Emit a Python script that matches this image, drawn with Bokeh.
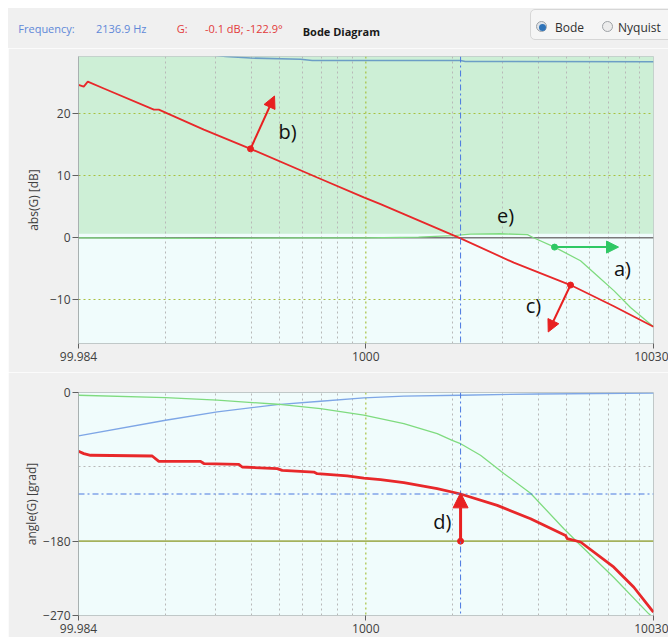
from bokeh.plotting import figure
from bokeh.layouts import column, row
from bokeh.models import (Range1d, FixedTicker, Span, BoxAnnotation, Arrow,
                          NormalHead, Div, Spacer)
from bokeh.core.properties import value
from bokeh.embed import file_html
from bokeh.resources import INLINE

# ---------------- data ----------------
F_MIN, F_MAX = 99.984, 10030.0
F_CURSOR = 2136.9
PHASE_CURSOR = -122.9
x_ticks = [F_MIN, 1000.0, F_MAX]
x_tick_labels = ["99.984", "1000", "10030"]
minor_freqs = [200, 300, 400, 500, 600, 700, 800, 900,
               2000, 3000, 4000, 5000, 6000, 7000, 8000, 9000]
mag_ticks = [-10, 0, 10, 20]
phase_ticks = [-270, -180, 0]
MAG_MIN, MAG_MAX = -17.0, 29.15

# |G| (red)
magG_f = [99.984, 104.3, 107.7, 122.5, 182.9, 190.3, 273, 396.9, 677.4, 984,
          1125, 2136.9, 3274, 5158, 7299, 10030]
magG_db = [24.6, 24.3, 25.1, 24.0, 20.6, 20.6, 17.4, 14.3, 9.7, 6.5,
           5.4, -0.1, -4.0, -7.6, -11.0, -14.3]
# |T| (green)
magT_f = [99.984, 300, 600, 1000, 1526, 2000, 2314, 2943, 3655, 3834, 4538,
          5588, 6390, 7299, 8342, 10030]
magT_db = [0.0, -0.1, 0.0, 0.0, 0.1, 0.35, 0.6, 0.65, 0.5, 0.0, -1.5,
           -3.7, -6.1, -8.5, -11.2, -14.3]
# |S| (blue)
magS_f = [150, 325, 396.9, 592, 651, 2136.9, 2218, 10030]
magS_db = [31.0, 29.15, 28.9, 28.7, 28.5, 28.5, 28.35, 28.3]

# angle(G) (red)
phG_f = [99.984, 104.3, 110.1, 180.5, 190.3, 265.9, 273, 361.4, 371.3, 491.6,
         511.7, 659.2, 677.4, 861.6, 984, 1125, 1356, 1772, 2136.9, 2867,
         3744, 4956, 5023, 5588, 7299, 8567, 9928, 10030]
phG_deg = [-71.2, -74, -76, -76.9, -83.3, -83.3, -86, -87, -90.2, -92.2,
           -94.3, -96.3, -98.3, -101, -103.6, -105.5, -109.2, -116.5, -122.9, -136.7,
           -152.9, -173.1, -177, -181, -211.5, -235.8, -264, -266]
# angle(T) (green)
phT_f = [99.984, 200.9, 304, 491.6, 695.6, 984, 1356, 1772, 1998, 2124, 2507,
         3022, 3744, 4890, 5588, 7299, 9661, 10030]
phT_deg = [-3.3, -6.1, -9.3, -14.2, -19.4, -27.5, -37.6, -49.7, -57.9, -61.5, -76,
           -98, -122, -165, -185, -224, -268, -273]
# angle(S) (blue)
phS_f = [99.984, 200.9, 304, 491.6, 695.6, 984, 1356, 2124, 4000, 10030]
phS_deg = [-52.6, -33.6, -23.5, -14.6, -10.6, -6.5, -4.5, -3.3, -1.8, -0.8]

# annotation arrows (start -> end) and letters
arrow_a = (4538, -1.5, 7578, -1.5)
arrow_b = (396.9, 14.3, 481, 22.8)
arrow_c = (5158, -7.6, 4314, -15.15)
arrow_d = (F_CURSOR, -180, F_CURSOR, -121.5)
top_letters = ["a)", "b)", "c)", "e)"]
top_letters_f = [7824, 534, 3834, 3064]
top_letters_db = [-5.0, 17.1, -10.9, 3.6]
bot_letters = ["d)"]
bot_letters_f = [1845]
bot_letters_deg = [-156.1]

header_texts = ["Frequency:", "2136.9 Hz", "G:", "-0.1 dB; -122.9\u00b0"]
header_colors = ["#6088d8", "#6088d8", "#e23a3a", "#e23a3a"]
header_title = "Bode Diagram"
radio_texts = ["Bode", "Nyquist"]

# ---------------- styles / layout (px) ----------------
BG = "#f0f0f0"
CYAN = "#f0fcfc"
GREEN_ZONE = "#cdefd6"
RED = "#e8282a"
GREEN = "#7fdb7f"
BLUE = "#7ea6e6"
OLIVE = "#a8c040"
GRID_GRAY = "#b8b8b8"
CURSOR = "#4a78e0"
FONT = "Open Sans"

W = 660
HEAD_H = 40
TOP_H = 324
BOT_H = 265
header_left = [10.3, 88, 168.7, 197]      # px inside header
radio_left = [527.8, 593.8]
radio_text_left = [547, 610]


def style_axes(p, ylabel, ystandoff):
    for ax in p.xaxis:
        ax.ticker = FixedTicker(ticks=x_ticks)
        ax.major_label_overrides = dict(zip(x_ticks, x_tick_labels))
        ax.minor_tick_line_color = None
        ax.major_tick_in = 0
        ax.major_tick_out = 5
        ax.major_label_standoff = 3
        ax.axis_line_color = "#c0c8c8"
        ax.major_tick_line_color = "#606060"
        ax.major_label_text_font = FONT
        ax.major_label_text_font_size = "12px"
        ax.major_label_text_color = "#404040"
    for ax in p.yaxis:
        ax.minor_tick_line_color = None
        ax.major_tick_in = 0
        ax.major_tick_out = 6
        ax.major_label_standoff = 2
        ax.axis_line_color = "#a8b0b0"
        ax.major_tick_line_color = "#606060"
        ax.major_label_text_font = FONT
        ax.major_label_text_font_size = "12px"
        ax.major_label_text_color = "#404040"
        ax.axis_label = ylabel
        ax.axis_label_text_font = FONT
        ax.axis_label_text_font_size = "12px"
        ax.axis_label_text_font_style = "normal"
        ax.axis_label_text_color = "#404040"
        ax.axis_label_standoff = ystandoff
    p.outline_line_color = "#c0c8c8"
    p.background_fill_color = CYAN
    p.border_fill_color = BG
    p.xgrid.ticker = FixedTicker(ticks=minor_freqs)
    p.xgrid.grid_line_color = GRID_GRAY
    p.xgrid.grid_line_dash = "2 3"
    p.add_layout(Span(location=1000, dimension="height", line_color=OLIVE,
                      line_dash="2 3", line_width=1.2, level="underlay"))


# ---------------- header ----------------
spans = []
for t, x, c in zip(header_texts, header_left, header_colors):
    spans.append(f'<span style="position:absolute;left:{x}px;top:12.8px;font-size:11px;'
                 f'line-height:15px;color:{c};white-space:nowrap">{t}</span>')
spans.append(f'<span style="position:absolute;left:294.7px;top:16.3px;font-size:11px;'
             f'line-height:15px;font-weight:bold;color:#1a1a1a;white-space:nowrap">{header_title}</span>')
spans.append('<div style="position:absolute;left:522px;top:1.3px;width:160px;height:31px;'
             'border:1px solid #d6d6d6;border-radius:5px;background:#f5f5f5"></div>')
for i, x in enumerate(radio_left):
    fill = "#dfe4ea" if i == 0 else "#ececec"
    spans.append(f'<div style="position:absolute;left:{x}px;top:13.2px;width:11px;height:11px;'
                 f'border:1px solid #9ea2a6;border-radius:50%;background:{fill}"></div>')
spans.append(f'<div style="position:absolute;left:{radio_left[0] + 3}px;top:16.2px;width:7px;'
             f'height:7px;border-radius:50%;background:#2f73b8"></div>')
for t, x in zip(radio_texts, radio_text_left):
    spans.append(f'<span style="position:absolute;left:{x}px;top:12px;font-size:12px;'
                 f'line-height:16px;color:#303030;white-space:nowrap">{t}</span>')
header_html = (f'<div style="position:relative;width:{W}px;height:{HEAD_H}px;overflow:hidden;'
               f'background:{BG};font-family:\'{FONT}\';margin:0;padding:0">' + "".join(spans) + '</div>')
head = Div(text=header_html, width=W, height=HEAD_H, margin=0)

# ---------------- magnitude plot ----------------
top = figure(width=W, height=TOP_H, x_axis_type="log",
             x_range=Range1d(F_MIN, F_MAX), y_range=Range1d(MAG_MIN, MAG_MAX),
             output_backend="svg", toolbar_location=None,
             min_border_left=70, min_border_right=15,
             min_border_top=8, min_border_bottom=29)
style_axes(top, "abs(G) [dB]", 5)
for ax in top.yaxis:
    ax.ticker = FixedTicker(ticks=mag_ticks)
top.ygrid.ticker = FixedTicker(ticks=[-10, 10, 20])
top.ygrid.grid_line_color = OLIVE
top.ygrid.grid_line_dash = "2 3"
top.ygrid.grid_line_width = 1.2
top.add_layout(BoxAnnotation(bottom=0.65, fill_color=GREEN_ZONE, fill_alpha=1,
                             line_color=None, level="image"))
top.add_layout(Span(location=0, dimension="width", line_color="#7a7a7a",
                    line_width=1.5, level="underlay"))
top.add_layout(Span(location=F_CURSOR, dimension="height", line_color=CURSOR,
                    line_dash="6 3 2 3", line_width=1))

top.line(magS_f, magS_db, line_color="#6c9ec6", line_width=1.6)
top.line(magT_f, magT_db, line_color=GREEN, line_width=1.3)
top.line(magG_f, magG_db, line_color=RED, line_width=1.8)

top.add_layout(Arrow(end=NormalHead(size=12, fill_color="#2fc864", line_color="#2fc864"),
                     x_start=arrow_a[0], y_start=arrow_a[1], x_end=arrow_a[2], y_end=arrow_a[3],
                     line_color="#2fc864", line_width=2))
for a in (arrow_b, arrow_c):
    top.add_layout(Arrow(end=NormalHead(size=12, fill_color="#e82020", line_color="#e82020"),
                         x_start=a[0], y_start=a[1], x_end=a[2], y_end=a[3],
                         line_color="#e82020", line_width=2))
top.scatter([arrow_a[0]], [arrow_a[1]], size=6, color="#2fc864")
top.scatter([arrow_b[0], arrow_c[0]], [arrow_b[1], arrow_c[1]], size=6, color="#e82020")
top.text(x=top_letters_f, y=top_letters_db, text=top_letters, text_color="#111111",
         text_font=value(FONT), text_font_size="20px",
         text_align="center", text_baseline="middle")

# ---------------- phase plot ----------------
bot = figure(width=W, height=BOT_H, x_axis_type="log",
             x_range=Range1d(F_MIN, F_MAX), y_range=Range1d(-270, 0),
             output_backend="svg", toolbar_location=None,
             min_border_left=70, min_border_right=15,
             min_border_top=20, min_border_bottom=22)
style_axes(bot, "angle(G) [grad]", 0)
for ax in bot.yaxis:
    ax.ticker = FixedTicker(ticks=phase_ticks)
bot.ygrid.ticker = FixedTicker(ticks=[-90])
bot.ygrid.grid_line_color = GRID_GRAY
bot.ygrid.grid_line_dash = "2 3"
bot.add_layout(Span(location=-180, dimension="width", line_color="#a4b25c",
                    line_width=1.6, level="underlay"))
bot.add_layout(Span(location=F_CURSOR, dimension="height", line_color=CURSOR,
                    line_dash="6 3 2 3", line_width=1))
bot.add_layout(Span(location=PHASE_CURSOR, dimension="width", line_color=CURSOR,
                    line_dash="6 3 2 3", line_width=1))

bot.line(phS_f, phS_deg, line_color=BLUE, line_width=1.3)
bot.line(phT_f, phT_deg, line_color=GREEN, line_width=1.3)
bot.line(phG_f, phG_deg, line_color=RED, line_width=2.8)

bot.add_layout(Arrow(end=NormalHead(size=15, fill_color="#e82020", line_color="#e82020"),
                     x_start=arrow_d[0], y_start=arrow_d[1], x_end=arrow_d[2], y_end=arrow_d[3],
                     line_color="#e82020", line_width=3))
bot.scatter([arrow_d[0]], [arrow_d[1]], size=6, color="#e82020")
bot.text(x=bot_letters_f, y=bot_letters_deg, text=bot_letters, text_color="#111111",
         text_font=value(FONT), text_font_size="20px",
         text_align="center", text_baseline="middle")

page = column(Spacer(height=8, width=668),
              row(Spacer(width=8, height=HEAD_H + TOP_H + BOT_H),
                  column(head, top, bot, spacing=0), spacing=0),
              spacing=0)
open("out.html", "w").write(file_html(page, INLINE))
